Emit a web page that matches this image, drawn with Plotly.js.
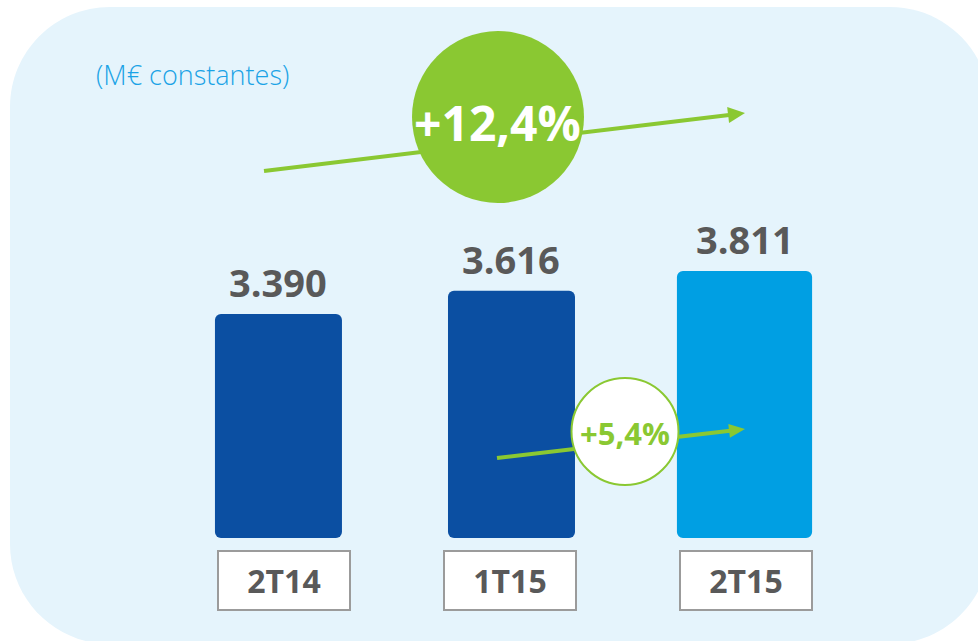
<!DOCTYPE html>
<html>
<head>
<meta charset="utf-8">
<script src="https://cdn.plot.ly/plotly-3.0.1.min.js"></script>
<style>
  html, body { margin: 0; padding: 0; background: #ffffff; }
  #chart { width: 978px; height: 641px; }
</style>
</head>
<body>
<div id="chart"></div>
<script>
// ---- data ----
const categories = ['2T14', '1T15', '2T15'];
const values = [3390, 3616, 3811];
const unitLabel = '(M\u20ac constantes)';

// ---- helpers ----
const W = 978, H = 641;
const px = x => x / W;
const py = y => 1 - y / H;
const fmtThousands = v => String(v).replace(/\B(?=(\d{3})+(?!\d))/g, '.');
const fmtPct = (a, b) => '+' + ((b / a - 1) * 100).toFixed(1).replace('.', ',') + '%';

const growthYear = fmtPct(values[0], values[2]);
const growthQuarter = fmtPct(values[1], values[2]);

const GREEN = '#8ac832';
const GREY = '#595959';
const FONT = 'Open Sans, Noto Sans, sans-serif';

function arrowShapes(x0, y0, x1, y1, lw, headLen, headHalf) {
  const dx = x1 - x0, dy = y1 - y0;
  const len = Math.hypot(dx, dy);
  const ux = dx / len, uy = dy / len;
  const nx = -uy, ny = ux;
  const bx = x1 - headLen * ux, by = y1 - headLen * uy;
  const c1x = bx + headHalf * nx, c1y = by + headHalf * ny;
  const c2x = bx - headHalf * nx, c2y = by - headHalf * ny;
  return [
    { type: 'line', xref: 'paper', yref: 'paper', layer: 'above',
      x0: px(x0), y0: py(y0), x1: px(bx + 1 * ux), y1: py(by + 1 * uy),
      line: { color: GREEN, width: lw } },
    { type: 'path', xref: 'paper', yref: 'paper', layer: 'above',
      path: `M ${px(x1)} ${py(y1)} L ${px(c1x)} ${py(c1y)} L ${px(c2x)} ${py(c2y)} Z`,
      fillcolor: GREEN, line: { width: 0 } }
  ];
}

function roundedPanel(l, t, r, b, rad) {
  const k = 0.5523 * rad;
  const p = [
    `M ${px(l + rad)} ${py(t)}`,
    `L ${px(r - rad)} ${py(t)}`,
    `C ${px(r - rad + k)} ${py(t)} ${px(r)} ${py(t + rad - k)} ${px(r)} ${py(t + rad)}`,
    `L ${px(r)} ${py(b - rad)}`,
    `C ${px(r)} ${py(b - rad + k)} ${px(r - rad + k)} ${py(b)} ${px(r - rad)} ${py(b)}`,
    `L ${px(l + rad)} ${py(b)}`,
    `C ${px(l + rad - k)} ${py(b)} ${px(l)} ${py(b - rad + k)} ${px(l)} ${py(b - rad)}`,
    `L ${px(l)} ${py(t + rad)}`,
    `C ${px(l)} ${py(t + rad - k)} ${px(l + rad - k)} ${py(t)} ${px(l + rad)} ${py(t)} Z`
  ];
  return p.join(' ');
}

function circle(cx, cy, r, fill, lineColor, lineWidth) {
  return { type: 'circle', xref: 'paper', yref: 'paper', layer: 'above',
    x0: px(cx - r), x1: px(cx + r), y0: py(cy + r), y1: py(cy - r),
    fillcolor: fill, line: { color: lineColor, width: lineWidth } };
}

const BASE = 1196;

const trace = {
  type: 'bar',
  x: categories,
  y: values.map(v => v - BASE),
  base: BASE,
  width: [0.545, 0.545, 0.58],
  marker: { color: ['#0b4fa2', '#0b4fa2', '#009fe3'], cornerradius: 6, line: { width: 0 } },
  hoverinfo: 'skip'
};

const shapes = [
  { type: 'path', xref: 'paper', yref: 'paper', layer: 'below',
    path: roundedPanel(10, 7, 990, 644, 100),
    fillcolor: '#e5f4fc', line: { width: 0 } },
  ...arrowShapes(264, 171, 745, 113, 4, 17, 8),
  circle(498, 117, 86, '#8ac832', '#8ac832', 0),
  ...arrowShapes(497, 458, 745, 429, 4, 16, 7),
  circle(625, 431.5, 53.5, '#ffffff', GREEN, 2)
];

const annotations = [
  { xref: 'paper', yref: 'paper', x: px(94), y: py(74), xanchor: 'left', yanchor: 'middle',
    text: unitLabel, showarrow: false,
    font: { family: FONT, size: 27, color: '#1aa3e6', weight: 300 } },
  { xref: 'paper', yref: 'paper', x: px(498), y: py(123), xanchor: 'center', yanchor: 'middle',
    text: '<b>' + growthYear + '</b>', showarrow: false,
    font: { family: FONT, size: 48, color: '#ffffff' } },
  { xref: 'paper', yref: 'paper', x: px(625), y: py(433), xanchor: 'center', yanchor: 'middle',
    text: '<b>' + growthQuarter + '</b>', showarrow: false,
    font: { family: FONT, size: 31, color: GREEN } }
];

const boxShift = [6, -1, 1];
categories.forEach((c, i) => {
  annotations.push({
    xref: 'x', yref: 'y', x: c, y: values[i], xanchor: 'center', yanchor: 'middle',
    yshift: 32, text: '<b>' + fmtThousands(values[i]) + '</b>', showarrow: false,
    font: { family: FONT, size: 38, color: GREY }
  });
  annotations.push({
    xref: 'x', yref: 'paper', x: c, y: py(580.5), xanchor: 'center', yanchor: 'middle',
    xshift: boxShift[i],
    text: '<b>' + c + '</b>', showarrow: false,
    width: 130, height: 57, borderpad: 0, borderwidth: 2,
    bordercolor: '#9b9b9b', bgcolor: '#ffffff',
    font: { family: FONT, size: 32, color: GREY }
  });
});

const layout = {
  width: W, height: H,
  margin: { l: 0, r: 0, t: 0, b: 0, pad: 0 },
  paper_bgcolor: '#ffffff',
  plot_bgcolor: 'rgba(0,0,0,0)',
  showlegend: false,
  xaxis: { type: 'category', range: [-1.195, 3.002], showgrid: false, zeroline: false,
           showticklabels: false, showline: false, ticks: '', fixedrange: true },
  yaxis: { range: [188, 6463], showgrid: false, zeroline: false,
           showticklabels: false, showline: false, ticks: '', fixedrange: true },
  shapes: shapes,
  annotations: annotations
};

Plotly.newPlot('chart', [trace], layout, { displayModeBar: false, staticPlot: true });
</script>
</body>
</html>
